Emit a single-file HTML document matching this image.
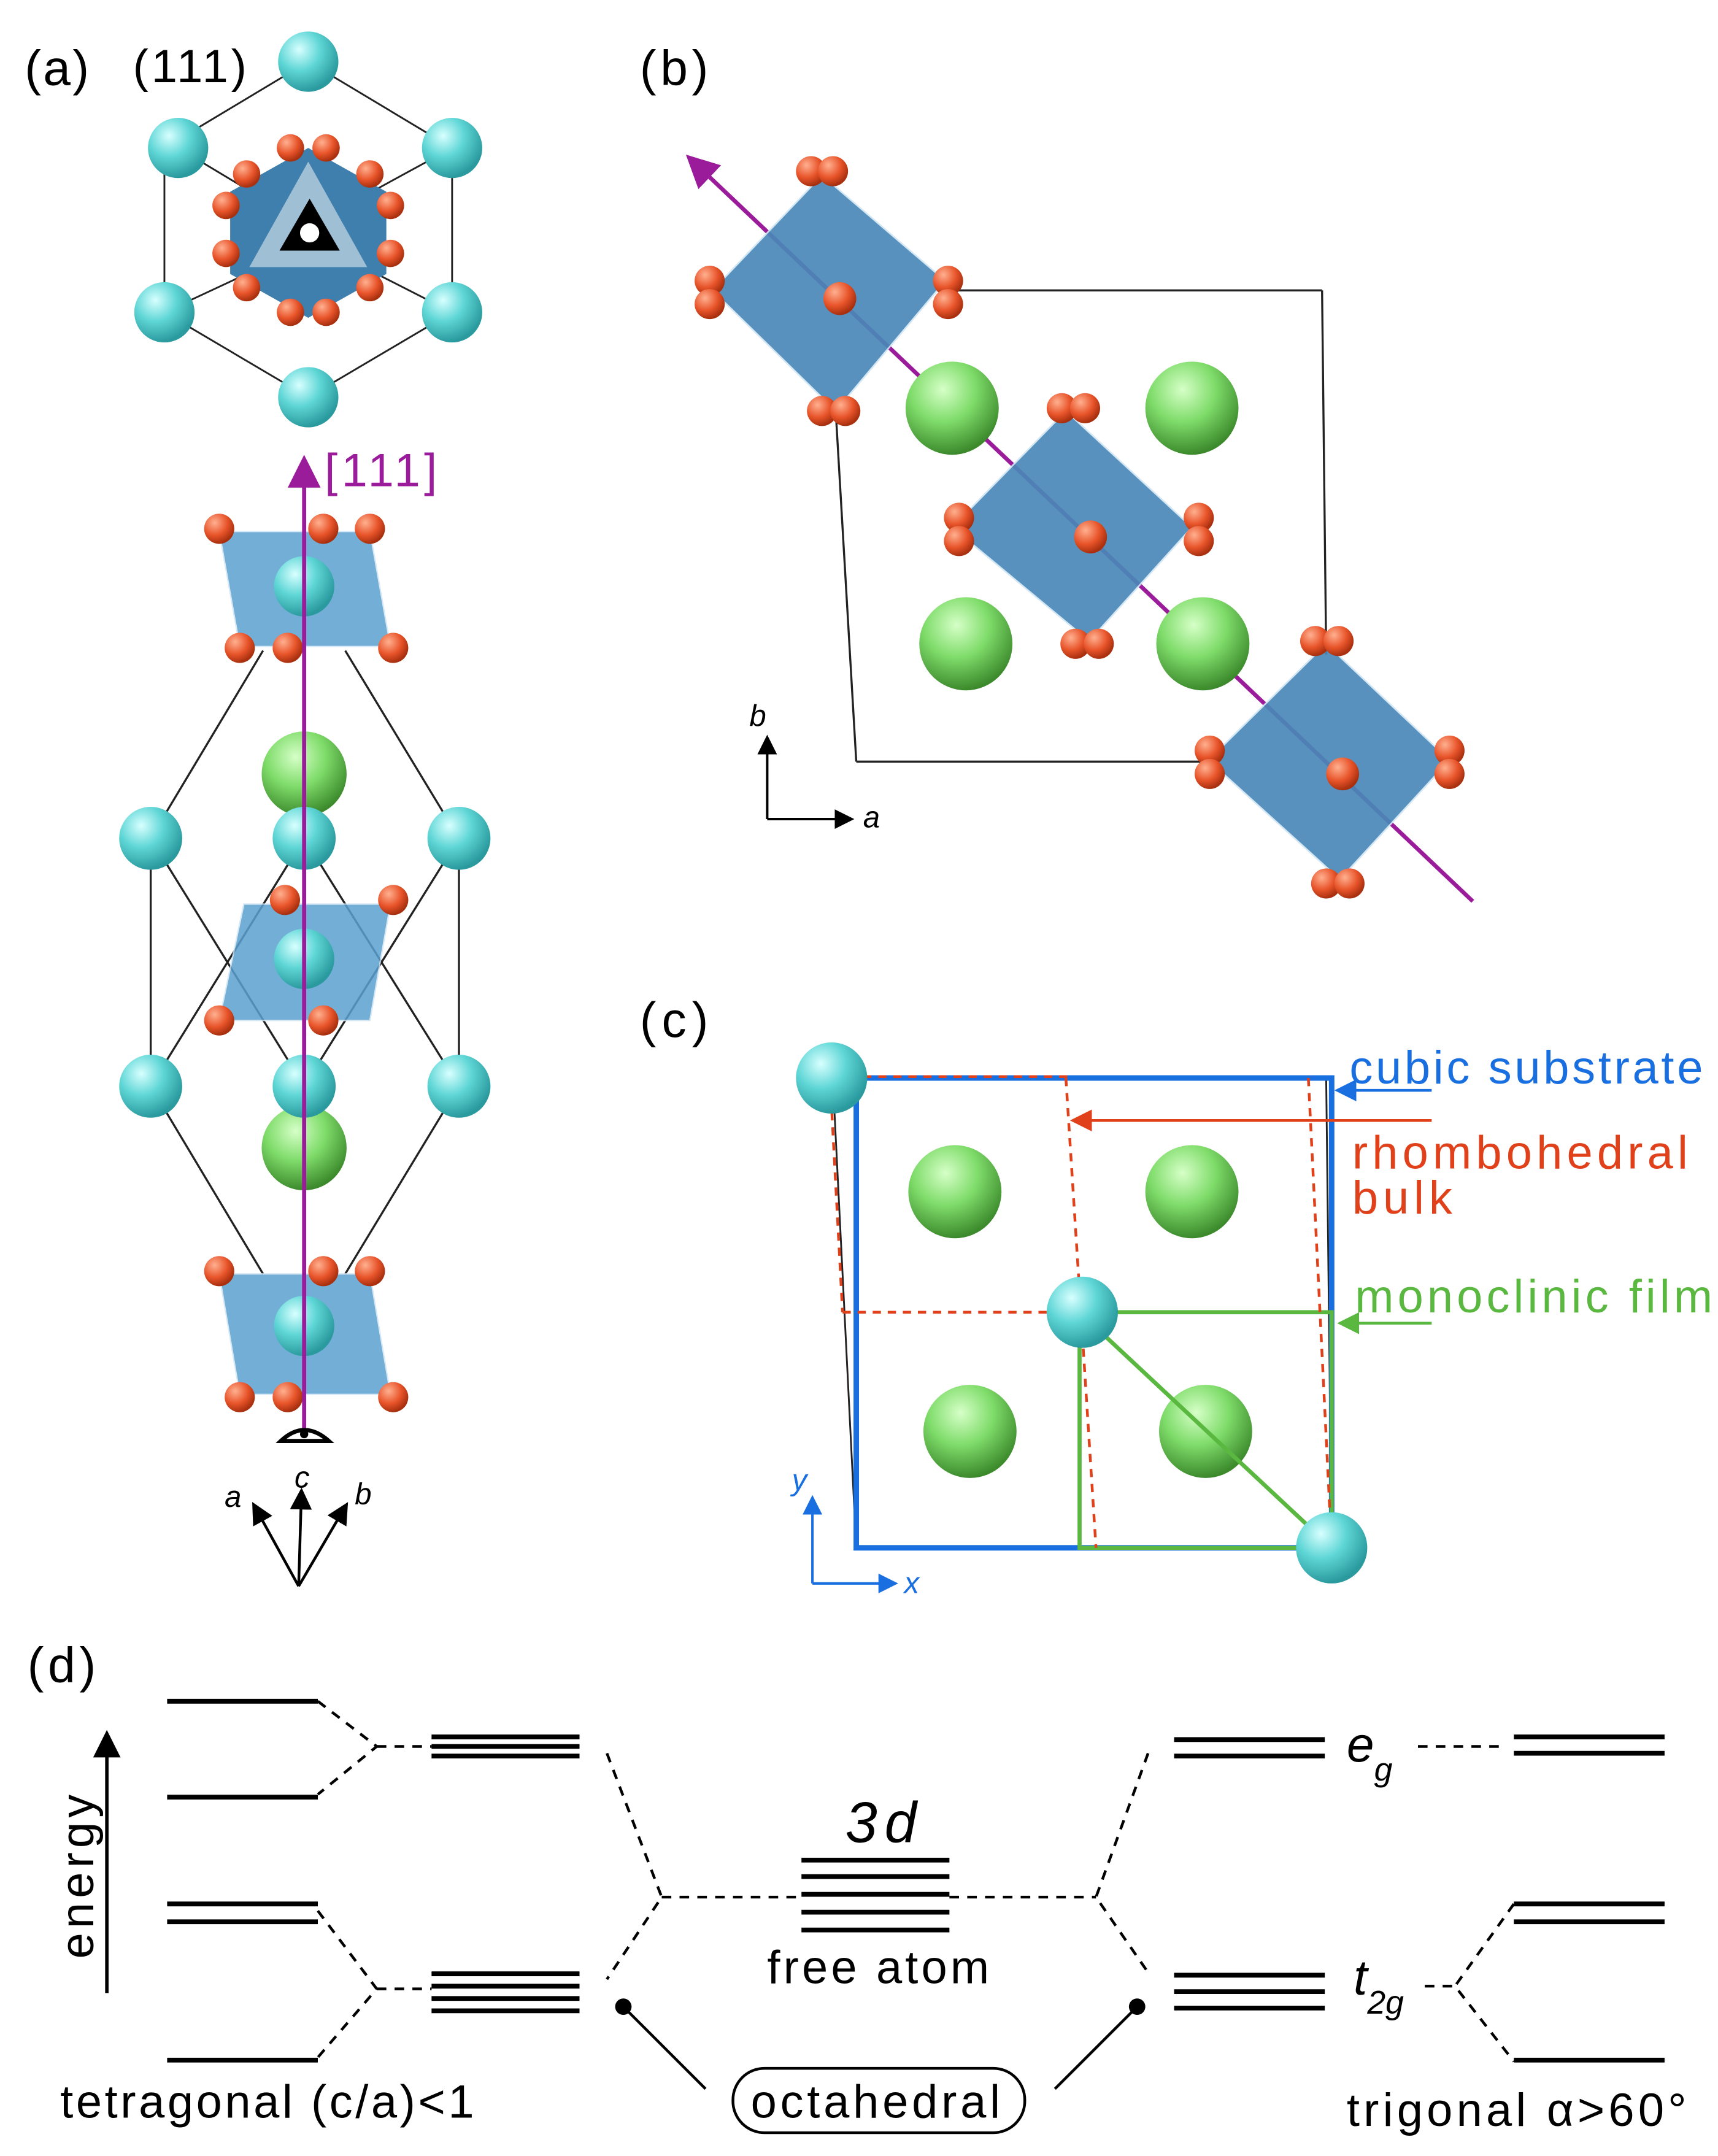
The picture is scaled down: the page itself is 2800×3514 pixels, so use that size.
<!DOCTYPE html>
<html><head><meta charset="utf-8"><style>
html,body{margin:0;padding:0;background:#fff}
svg{display:block}
text{font-family:"Liberation Sans",sans-serif}
</style></head><body>
<svg width="2800" height="3514" viewBox="0 0 1254 1574" preserveAspectRatio="none" xmlns="http://www.w3.org/2000/svg">
<defs>
<radialGradient id="cy" cx="0.35" cy="0.3" r="0.7"><stop offset="0" stop-color="#d8ffff"/><stop offset="0.5" stop-color="#5fd6d6"/><stop offset="1" stop-color="#2a9a9e"/></radialGradient>
<radialGradient id="gr" cx="0.4" cy="0.3" r="0.7"><stop offset="0" stop-color="#d6ffc8"/><stop offset="0.5" stop-color="#7fdc6a"/><stop offset="1" stop-color="#3c8a2c"/></radialGradient>
<radialGradient id="or" cx="0.35" cy="0.3" r="0.7"><stop offset="0" stop-color="#ffb090"/><stop offset="0.6" stop-color="#e8542a"/><stop offset="1" stop-color="#a8300f"/></radialGradient>
<marker id="ak" markerWidth="8" markerHeight="8" refX="6" refY="4" orient="auto"><path d="M0,0 L8,4 L0,8 z" fill="#000"/></marker>
<marker id="ap" markerWidth="8" markerHeight="8" refX="6" refY="4" orient="auto"><path d="M0,0 L8,4 L0,8 z" fill="#9a1c9a"/></marker>
<marker id="ab" markerWidth="8" markerHeight="8" refX="6" refY="4" orient="auto"><path d="M0,0 L8,4 L0,8 z" fill="#1a6fe0"/></marker>
<marker id="ar" markerWidth="8" markerHeight="8" refX="6" refY="4" orient="auto"><path d="M0,0 L8,4 L0,8 z" fill="#e0401a"/></marker>
<marker id="ag" markerWidth="8" markerHeight="8" refX="6" refY="4" orient="auto"><path d="M0,0 L8,4 L0,8 z" fill="#5ab840"/></marker>
</defs>

<!-- (a) -->
<text x="18" y="62" font-size="36" textLength="47">(a)</text>
<text x="97" y="60" font-size="34" textLength="83">(111)</text>
<g stroke="#222" stroke-width="1.3" fill="none">
<polygon points="225,45 330,108 330,228 225,290 120,228 120,108"/>
<line x1="130" y1="108" x2="180" y2="138"/><line x1="330" y1="108" x2="275" y2="138"/>
<line x1="120" y1="228" x2="180" y2="200"/><line x1="330" y1="228" x2="275" y2="200"/>
</g>
<polygon points="225,108 282,140 282,200 225,232 168,200 168,140" fill="#3f7fae"/>
<polygon points="225,118 268,195 182,195" fill="#dfe9ef" opacity="0.6"/>
<g fill="url(#or)">
<circle cx="212" cy="108" r="10"/><circle cx="238" cy="108" r="10"/><circle cx="180" cy="127" r="10"/><circle cx="270" cy="127" r="10"/>
<circle cx="165" cy="150" r="10"/><circle cx="285" cy="150" r="10"/><circle cx="165" cy="185" r="10"/><circle cx="285" cy="185" r="10"/>
<circle cx="180" cy="210" r="10"/><circle cx="270" cy="210" r="10"/><circle cx="212" cy="228" r="10"/><circle cx="238" cy="228" r="10"/>
</g>
<polygon points="226,145 248,183 204,183" fill="#000"/><circle cx="226" cy="170" r="7" fill="#fff"/>
<g fill="url(#cy)">
<circle cx="225" cy="45" r="22"/><circle cx="130" cy="108" r="22"/><circle cx="330" cy="108" r="22"/>
<circle cx="120" cy="228" r="22"/><circle cx="330" cy="228" r="22"/><circle cx="225" cy="290" r="22"/>
</g>

<g stroke="#222" stroke-width="1.5" fill="none">
<line x1="192" y1="475" x2="110" y2="612"/><line x1="252" y1="475" x2="335" y2="612"/>
<line x1="110" y1="612" x2="110" y2="793"/><line x1="335" y1="612" x2="335" y2="793"/>
<line x1="222" y1="612" x2="110" y2="793"/><line x1="222" y1="612" x2="335" y2="793"/>
<line x1="110" y1="612" x2="222" y2="793"/><line x1="335" y1="612" x2="222" y2="793"/>
<line x1="110" y1="793" x2="192" y2="930"/><line x1="335" y1="793" x2="252" y2="930"/>
</g>
<g fill="#5aa0d0" opacity="0.85" stroke="#cfe4f2" stroke-width="1">
<polygon points="160,388 270,388 285,472 175,472"/>
<polygon points="178,660 285,660 270,745 160,745"/>
<polygon points="160,930 270,930 285,1018 175,1018"/>
</g>
<g fill="url(#cy)">
<circle cx="222" cy="428" r="22"/><circle cx="222" cy="700" r="22"/><circle cx="222" cy="968" r="22"/>
</g>
<g fill="url(#gr)"><circle cx="222" cy="565" r="31"/><circle cx="222" cy="838" r="31"/></g>
<g fill="url(#cy)">
<circle cx="110" cy="612" r="23"/><circle cx="222" cy="612" r="23"/><circle cx="335" cy="612" r="23"/>
<circle cx="110" cy="793" r="23"/><circle cx="222" cy="793" r="23"/><circle cx="335" cy="793" r="23"/>
</g>
<g fill="url(#or)">
<circle cx="160" cy="386" r="11"/><circle cx="236" cy="386" r="11"/><circle cx="270" cy="386" r="11"/>
<circle cx="175" cy="473" r="11"/><circle cx="210" cy="473" r="11"/><circle cx="287" cy="473" r="11"/>
<circle cx="208" cy="657" r="11"/><circle cx="287" cy="657" r="11"/><circle cx="160" cy="745" r="11"/><circle cx="236" cy="745" r="11"/>
<circle cx="160" cy="928" r="11"/><circle cx="236" cy="928" r="11"/><circle cx="270" cy="928" r="11"/>
<circle cx="175" cy="1020" r="11"/><circle cx="210" cy="1020" r="11"/><circle cx="287" cy="1020" r="11"/>
</g>
<line x1="222" y1="1052" x2="222" y2="338" stroke="#9a1c9a" stroke-width="3" marker-end="url(#ap)"/>
<text x="237" y="355" font-size="34" fill="#9a1c9a" textLength="82">[111]</text>
<path d="M205,1052 Q222,1036 240,1052 Z" fill="#fff" stroke="#000" stroke-width="3"/><circle cx="222" cy="1047" r="3" fill="#000"/>
<g stroke="#000" stroke-width="2" marker-end="url(#ak)">
<line x1="218" y1="1158" x2="186" y2="1100"/><line x1="218" y1="1158" x2="220" y2="1090"/><line x1="218" y1="1158" x2="252" y2="1100"/>
</g>
<g font-family="Liberation Serif" font-style="italic" font-size="22">
<text x="164" y="1100">a</text><text x="215" y="1086">c</text><text x="259" y="1098">b</text></g>

<!-- (b) -->
<text x="467" y="62" font-size="36" textLength="50">(b)</text>
<g stroke="#222" stroke-width="1.5" fill="none">
<line x1="690" y1="212" x2="965" y2="212"/><line x1="965" y1="212" x2="968" y2="478"/>
<line x1="625" y1="556" x2="880" y2="556"/><line x1="610" y1="300" x2="625" y2="556"/>
</g>
<line x1="1075" y1="658" x2="505" y2="117" stroke="#9a1c9a" stroke-width="3" marker-end="url(#ap)"/>
<g fill="#4a88b8" opacity="0.92" stroke="#d0e6f4" stroke-width="1.2">
<polygon points="600,128 690,205 610,300 520,212"/>
<polygon points="778,300 870,385 795,468 695,385"/>
<polygon points="968,470 1058,555 978,642 882,555"/>
</g>
<g fill="url(#gr)">
<circle cx="695" cy="298" r="34"/><circle cx="870" cy="298" r="34"/><circle cx="705" cy="470" r="34"/><circle cx="878" cy="470" r="34"/>
</g>
<g fill="url(#or)">
<circle cx="592" cy="125" r="11"/><circle cx="608" cy="125" r="11"/><circle cx="518" cy="205" r="11"/><circle cx="518" cy="222" r="11"/>
<circle cx="613" cy="218" r="12"/><circle cx="692" cy="205" r="11"/><circle cx="692" cy="222" r="11"/><circle cx="600" cy="300" r="11"/><circle cx="617" cy="300" r="11"/>
<circle cx="775" cy="298" r="11"/><circle cx="792" cy="298" r="11"/><circle cx="700" cy="378" r="11"/><circle cx="700" cy="395" r="11"/>
<circle cx="796" cy="392" r="12"/><circle cx="875" cy="378" r="11"/><circle cx="875" cy="395" r="11"/><circle cx="785" cy="470" r="11"/><circle cx="802" cy="470" r="11"/>
<circle cx="960" cy="468" r="11"/><circle cx="977" cy="468" r="11"/><circle cx="883" cy="548" r="11"/><circle cx="883" cy="565" r="11"/>
<circle cx="980" cy="565" r="12"/><circle cx="1058" cy="548" r="11"/><circle cx="1058" cy="565" r="11"/><circle cx="968" cy="645" r="11"/><circle cx="985" cy="645" r="11"/>
</g>
<g stroke="#000" stroke-width="1.8" marker-end="url(#ak)">
<line x1="560" y1="598" x2="560" y2="540"/><line x1="560" y1="598" x2="620" y2="598"/></g>
<g font-family="Liberation Serif" font-style="italic" font-size="22"><text x="547" y="530">b</text><text x="630" y="604">a</text></g>

<!-- (c) -->
<text x="467" y="757" font-size="36" textLength="50">(c)</text>
<g stroke="#222" stroke-width="1.3"><line x1="608" y1="790" x2="625" y2="1130"/><line x1="968" y1="787" x2="972" y2="1130"/></g>
<g fill="url(#gr)">
<circle cx="697" cy="870" r="34"/><circle cx="870" cy="870" r="34"/><circle cx="708" cy="1045" r="34"/><circle cx="880" cy="1045" r="34"/>
</g>
<rect x="625" y="787" width="347" height="343" fill="none" stroke="#1a6fe0" stroke-width="4"/>
<g stroke="#5ab840" stroke-width="3" fill="none"><rect x="788" y="958" width="184" height="172"/><line x1="788" y1="958" x2="972" y2="1130"/></g>
<g stroke="#e0401a" stroke-width="2" stroke-dasharray="6,5" fill="none">
<line x1="608" y1="786" x2="780" y2="786"/><line x1="606" y1="790" x2="615" y2="958"/>
<line x1="778" y1="787" x2="800" y2="1130"/><line x1="955" y1="787" x2="972" y2="1130"/>
<line x1="615" y1="958" x2="790" y2="958"/></g>
<g fill="url(#cy)"><circle cx="607" cy="787" r="26"/><circle cx="790" cy="958" r="26"/><circle cx="972" cy="1130" r="26"/></g>
<text x="985" y="791" font-size="34" fill="#1a6fe0" textLength="258">cubic substrate</text>
<line x1="1045" y1="796" x2="978" y2="796" stroke="#1a6fe0" stroke-width="2" marker-end="url(#ab)"/>
<text x="987" y="853" font-size="34" fill="#e0401a" textLength="245">rhombohedral</text>
<text x="987" y="886" font-size="34" fill="#e0401a" textLength="73">bulk</text>
<line x1="1045" y1="818" x2="785" y2="818" stroke="#e0401a" stroke-width="2" marker-end="url(#ar)"/>
<text x="989" y="958" font-size="34" fill="#5ab840" textLength="261">monoclinic film</text>
<line x1="1045" y1="966" x2="980" y2="966" stroke="#5ab840" stroke-width="2" marker-end="url(#ag)"/>
<g stroke="#1a6fe0" stroke-width="1.8" marker-end="url(#ab)">
<line x1="593" y1="1156" x2="593" y2="1095"/><line x1="593" y1="1156" x2="652" y2="1156"/></g>
<g font-family="Liberation Serif" font-style="italic" font-size="22" fill="#1a6fe0"><text x="578" y="1088">y</text><text x="660" y="1163">x</text></g>

<!-- (d) -->
<text x="20" y="1228" font-size="36" textLength="50">(d)</text>
<g stroke="#000" stroke-width="3.5">
<line x1="122" y1="1242" x2="232" y2="1242"/><line x1="122" y1="1312" x2="232" y2="1312"/>
<line x1="122" y1="1390" x2="232" y2="1390"/><line x1="122" y1="1403" x2="232" y2="1403"/>
<line x1="122" y1="1504" x2="232" y2="1504"/>
<line x1="315" y1="1268" x2="423" y2="1268"/><line x1="315" y1="1275" x2="423" y2="1275"/><line x1="315" y1="1282" x2="423" y2="1282"/>
<line x1="315" y1="1441" x2="423" y2="1441"/><line x1="315" y1="1450" x2="423" y2="1450"/><line x1="315" y1="1459" x2="423" y2="1459"/><line x1="315" y1="1468" x2="423" y2="1468"/>
<line x1="585" y1="1358" x2="693" y2="1358"/><line x1="585" y1="1370" x2="693" y2="1370"/><line x1="585" y1="1383" x2="693" y2="1383"/><line x1="585" y1="1396" x2="693" y2="1396"/><line x1="585" y1="1409" x2="693" y2="1409"/>
<line x1="857" y1="1270" x2="967" y2="1270"/><line x1="857" y1="1282" x2="967" y2="1282"/>
<line x1="857" y1="1442" x2="967" y2="1442"/><line x1="857" y1="1454" x2="967" y2="1454"/><line x1="857" y1="1466" x2="967" y2="1466"/>
<line x1="1105" y1="1268" x2="1215" y2="1268"/><line x1="1105" y1="1280" x2="1215" y2="1280"/>
<line x1="1105" y1="1390" x2="1215" y2="1390"/><line x1="1105" y1="1403" x2="1215" y2="1403"/>
<line x1="1105" y1="1504" x2="1215" y2="1504"/>
</g>
<g stroke="#000" stroke-width="2" stroke-dasharray="7,6" fill="none">
<polyline points="232,1242 275,1275 232,1310"/><line x1="275" y1="1275" x2="315" y2="1275"/>
<polyline points="232,1395 275,1452 232,1502"/><line x1="275" y1="1452" x2="315" y2="1452"/>
<polyline points="443,1280 483,1385 443,1445"/><line x1="483" y1="1385" x2="585" y2="1385"/>
<line x1="693" y1="1385" x2="800" y2="1385"/><polyline points="838,1280 800,1385 838,1440"/>
<line x1="1035" y1="1275" x2="1100" y2="1275"/>
<polyline points="1105,1390 1062,1450 1105,1505"/><line x1="1040" y1="1450" x2="1062" y2="1450"/>
</g>
<line x1="78" y1="1455" x2="78" y2="1268" stroke="#000" stroke-width="2.5" marker-end="url(#ak)"/>
<text transform="translate(68,1430) rotate(-90)" font-size="34" textLength="120">energy</text>
<text x="617" y="1345" font-family="Liberation Serif" font-style="italic" font-size="42" textLength="52">3d</text>
<text x="560" y="1448" font-size="34" textLength="162">free atom</text>
<text x="983" y="1286" font-family="Liberation Serif" font-style="italic" font-size="36">e<tspan font-size="24" dy="14">g</tspan></text>
<text x="988" y="1456" font-family="Liberation Serif" font-style="italic" font-size="36">t<tspan font-size="24" dy="14">2g</tspan></text>
<text x="44" y="1546" font-size="34" textLength="302">tetragonal (c/a)&lt;1</text>
<rect x="535" y="1510" width="213" height="47" rx="23" fill="none" stroke="#000" stroke-width="2"/>
<text x="548" y="1546" font-size="34" textLength="182">octahedral</text>
<text x="983" y="1552" font-size="34" textLength="248">trigonal α&gt;60°</text>
<g stroke="#000" stroke-width="2"><line x1="455" y1="1465" x2="515" y2="1525"/><line x1="830" y1="1465" x2="770" y2="1525"/></g>
<circle cx="455" cy="1465" r="6"/><circle cx="830" cy="1465" r="6"/>
</svg>
</body></html>
